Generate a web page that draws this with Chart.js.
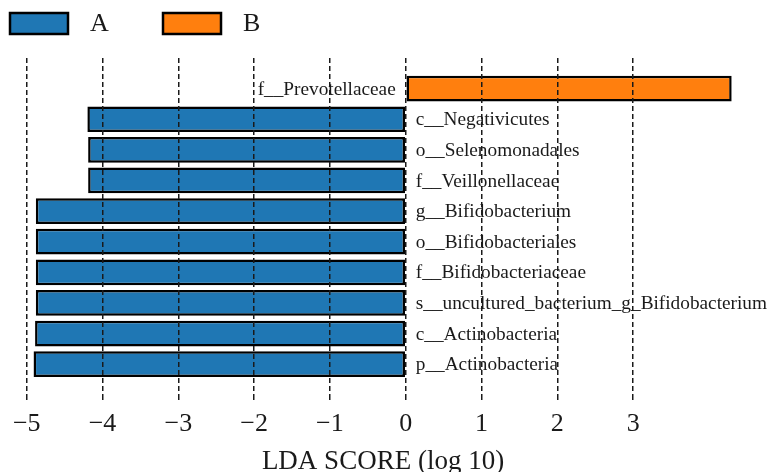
<!DOCTYPE HTML>
<html>
   <head>
      <script src="https://cdn.jsdelivr.net/npm/chart.js@4"></script>
      <style>
         body { margin: 0; background: #fff; }
      </style>
   </head>
   <body>
	<div style="width:768px;height:472px">
	  <canvas id="myChart"></canvas>
	</div>

      <script type="text/javascript">
		// taxa from top to bottom
		var taxa = [
			'f__Prevotellaceae',
			'c__Negativicutes',
			'o__Selenomonadales',
			'f__Veillonellaceae',
			'g__Bifidobacterium',
			'o__Bifidobacteriales',
			'f__Bifidobacteriaceae',
			's__uncultured_bacterium_g_Bifidobacterium',
			'c__Actinobacteria',
			'p__Actinobacteria'
		];
		var ldaScores = [4.30, -4.20, -4.19, -4.19, -4.88, -4.88, -4.88, -4.88, -4.89, -4.91];
		var taxaGroup = ['B', 'A', 'A', 'A', 'A', 'A', 'A', 'A', 'A', 'A'];
		var groupNames = ['A', 'B'];
		var groupColors = ['#1f77b4', '#ff7f0e'];
		var xTicks = [-5, -4, -3, -2, -1, 0, 1, 2, 3];

		var serif = "'Liberation Serif', 'Times New Roman', serif";

		var datasets = groupNames.map(function (g, k) {
			var pts = [];
			for (var i = 0; i < taxa.length; i++) {
				if (taxaGroup[i] === g) pts.push({ x: ldaScores[i], y: i });
			}
			return {
				label: g,
				data: pts,
				backgroundColor: groupColors[k],
				borderColor: '#000',
				borderWidth: 2.5,
				borderSkipped: false,
				grouped: false,
				categoryPercentage: 1,
				barPercentage: 0.84
			};
		});

		// taxon names next to the zero line
		var taxaLabels = {
			id: 'taxaLabels',
			afterDatasetsDraw: function (chart) {
				var ctx = chart.ctx;
				var xs = chart.scales.x, ys = chart.scales.y;
				var x0 = xs.getPixelForValue(0);
				ctx.save();
				ctx.font = '19.3px ' + serif;
				ctx.fillStyle = '#1a1a1a';
				ctx.textBaseline = 'middle';
				for (var i = 0; i < taxa.length; i++) {
					var y = ys.getPixelForValue(i) + 1;
					if (ldaScores[i] < 0) {
						ctx.textAlign = 'left';
						ctx.fillText(taxa[i], x0 + 10, y);
					} else {
						ctx.textAlign = 'right';
						ctx.fillText(taxa[i], x0 - 10, y);
					}
				}
				ctx.restore();
			}
		};

		// legend boxes at the top left
		var groupLegend = {
			id: 'groupLegend',
			afterDraw: function (chart) {
				var ctx = chart.ctx;
				var boxX = [10, 163];
				ctx.save();
				ctx.font = '26px ' + serif;
				ctx.textBaseline = 'middle';
				ctx.textAlign = 'left';
				chart.data.datasets.forEach(function (ds, k) {
					ctx.fillStyle = ds.backgroundColor;
					ctx.fillRect(boxX[k], 13, 58, 21);
					ctx.lineWidth = 2.5;
					ctx.strokeStyle = '#000';
					ctx.strokeRect(boxX[k], 13, 58, 21);
					ctx.fillStyle = '#1a1a1a';
					ctx.fillText(ds.label, boxX[k] + 80, 24);
				});
				ctx.restore();
			}
		};

		var ctx = document.getElementById('myChart');
		var myChart = new Chart(ctx, {
			type: 'bar',
			data: { datasets: datasets },
			plugins: [taxaLabels, groupLegend],
			options: {
				indexAxis: 'y',
				responsive: true,
				maintainAspectRatio: false,
				animation: false,
				layout: { padding: { top: 58, left: 4, right: 6, bottom: 0 } },
				plugins: {
					legend: { display: false },
					tooltip: { enabled: false }
				},
				scales: {
					y: {
						type: 'linear',
						display: false,
						offset: false,
						reverse: true,
						min: -1,
						max: 10
					},
					x: {
						type: 'linear',
						min: -5.3,
						max: 4.7,
						afterBuildTicks: function (scale) {
							scale.ticks = xTicks.map(function (v) { return { value: v }; });
						},
						border: { display: false, dash: [5, 3] },
						grid: {
							z: 1,
							color: '#1a1a1a',
							lineWidth: 1.5,
							tickBorderDash: [5, 3],
							tickLength: 8,
							tickColor: '#1a1a1a',
							tickWidth: 1.5
						},
						ticks: {
							padding: 6,
							color: '#1a1a1a',
							font: { family: serif, size: 26 },
							callback: function (v) {
								return v < 0 ? '\u2212' + Math.abs(v) : String(v);
							}
						},
						title: {
							display: true,
							text: 'LDA SCORE (log 10)',
							color: '#1a1a1a',
							font: { family: serif, size: 27, lineHeight: 1 },
							padding: { top: 2, bottom: -3 }
						}
					}
				}
			}
		});
      </script>
   </body>
</html>
